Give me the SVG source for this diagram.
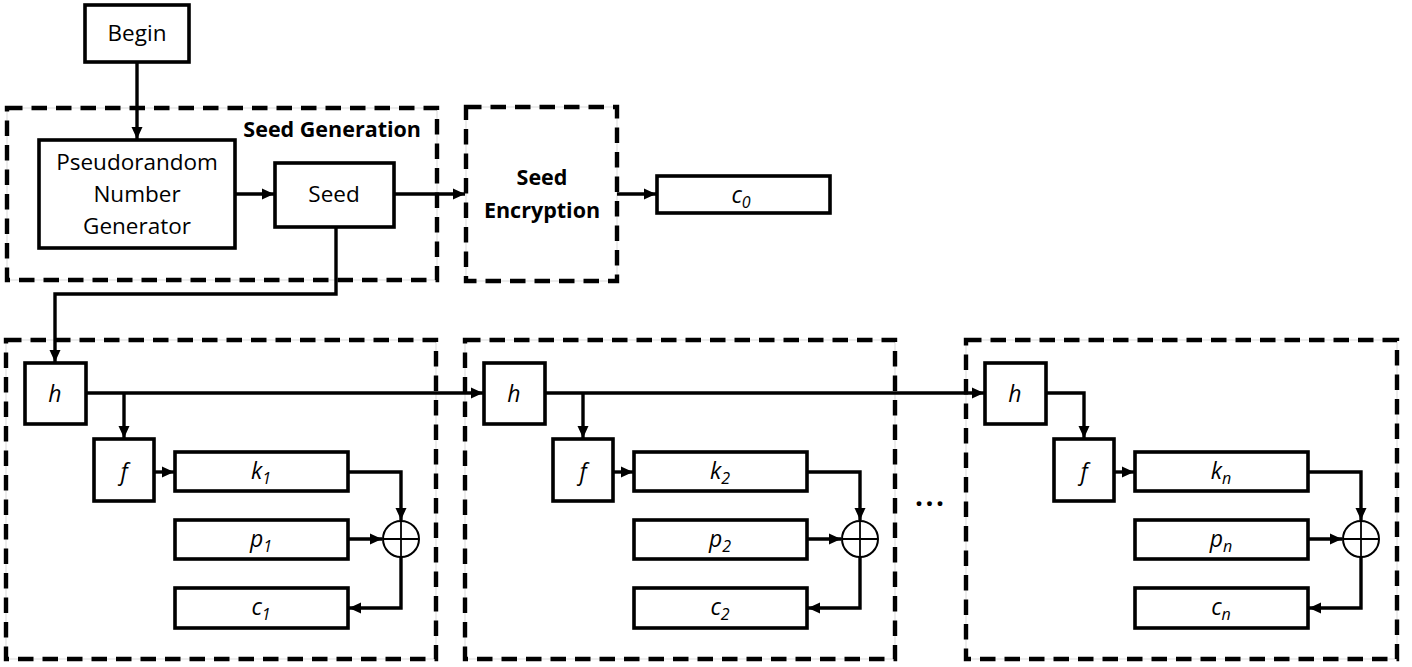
<svg xmlns="http://www.w3.org/2000/svg" width="1412" height="667" viewBox="0 0 1412 667">
  <style>
    .box { fill: #fff; stroke: #000; stroke-width: 3.6; }
    .frame-guide { fill: none; stroke: #d9d9d9; stroke-width: 1; }
    .frame { fill: none; stroke: #000; stroke-width: 4.4; stroke-dasharray: 15.5 9; }
    .wire { fill: none; stroke: #000; stroke-width: 3.4; }
    .xor { fill: #fff; stroke: #000; stroke-width: 2; }
    .xor-line { stroke: #000; stroke-width: 1.8; }
    text { font-family: "Open Sans", "Noto Sans", "DejaVu Sans", sans-serif; fill: #000; }
    .lbl { font-size: 22.5px; text-anchor: middle; }
    .title { font-size: 21.5px; font-weight: bold; }
    .var { font-size: 23px; font-style: italic; text-anchor: middle; }
    .sub { font-size: 16px; }
  </style>
  <defs>
    <marker id="arrow" markerUnits="userSpaceOnUse" markerWidth="12" markerHeight="12" refX="12" refY="6" orient="auto">
      <path d="M0,0.5 L12,6 L0,11.5 z" fill="#000"/>
    </marker>
  </defs>

  <!-- dashed frames -->
  <g id="frames">
    <rect class="frame-guide" x="7" y="108" width="430" height="172"/>
    <rect class="frame" x="7" y="108" width="430" height="172"/>
    <rect class="frame-guide" x="466" y="107" width="151" height="174"/>
    <rect class="frame" x="466" y="107" width="151" height="174"/>
    <rect class="frame-guide" x="6" y="340" width="430" height="319"/>
    <rect class="frame" x="6" y="340" width="430" height="319"/>
    <rect class="frame-guide" x="465" y="340" width="430" height="319"/>
    <rect class="frame" x="465" y="340" width="430" height="319"/>
    <rect class="frame-guide" x="966" y="340" width="431" height="319"/>
    <rect class="frame" x="966" y="340" width="431" height="319"/>
    <text class="title" x="421" y="137" text-anchor="end">Seed Generation</text>
    <text class="title" x="542" y="185" text-anchor="middle">Seed</text>
    <text class="title" x="542" y="218" text-anchor="middle">Encryption</text>
  </g>

  <!-- connectors -->
  <g id="connectors">
    <path class="wire" d="M137,62 V139" marker-end="url(#arrow)"/>
    <path class="wire" d="M235,194 H274" marker-end="url(#arrow)"/>
    <path class="wire" d="M394,194 H465" marker-end="url(#arrow)"/>
    <path class="wire" d="M617,194 H656" marker-end="url(#arrow)"/>
    <path class="wire" d="M336,227 V294 H55 V362" marker-end="url(#arrow)"/>

    <!-- stage 1 -->
    <path class="wire" d="M86,393 H483" marker-end="url(#arrow)"/>
    <path class="wire" d="M124,393 V438" marker-end="url(#arrow)"/>
    <path class="wire" d="M154,472 H174" marker-end="url(#arrow)"/>
    <path class="wire" d="M348,472 H401 V520" marker-end="url(#arrow)"/>
    <path class="wire" d="M348,539 H382" marker-end="url(#arrow)"/>
    <path class="wire" d="M401,557 V608 H349" marker-end="url(#arrow)"/>

    <!-- stage 2 -->
    <path class="wire" d="M545,393 H984" marker-end="url(#arrow)"/>
    <path class="wire" d="M583,393 V438" marker-end="url(#arrow)"/>
    <path class="wire" d="M613,472 H633" marker-end="url(#arrow)"/>
    <path class="wire" d="M807,472 H860 V520" marker-end="url(#arrow)"/>
    <path class="wire" d="M807,539 H841" marker-end="url(#arrow)"/>
    <path class="wire" d="M860,557 V608 H808" marker-end="url(#arrow)"/>

    <!-- stage n -->
    <path class="wire" d="M1045,393 H1084 V438" marker-end="url(#arrow)"/>
    <path class="wire" d="M1114,472 H1134" marker-end="url(#arrow)"/>
    <path class="wire" d="M1308,472 H1361 V520" marker-end="url(#arrow)"/>
    <path class="wire" d="M1308,539 H1342" marker-end="url(#arrow)"/>
    <path class="wire" d="M1361,557 V608 H1309" marker-end="url(#arrow)"/>
  </g>

  <!-- seed generation -->
  <g id="begin">
    <rect class="box" x="85" y="5" width="104" height="57"/>
    <text class="lbl" x="137" y="41">Begin</text>
  </g>
  <g id="prng">
    <rect class="box" x="39" y="140" width="196" height="108"/>
    <text class="lbl" x="137" y="170">Pseudorandom</text>
    <text class="lbl" x="137" y="202">Number</text>
    <text class="lbl" x="137" y="234">Generator</text>
  </g>
  <g id="seed">
    <rect class="box" x="275" y="163" width="119" height="64"/>
    <text class="lbl" x="334" y="202">Seed</text>
  </g>
  <g id="c0">
    <rect class="box" x="657" y="176" width="173" height="37"/>
    <text class="var" x="741" y="203">c<tspan class="sub" dy="5">0</tspan></text>
  </g>

  <!-- stage 1 -->
  <g id="h1">
    <rect class="box" x="25" y="363" width="61" height="61"/>
    <text class="var" x="55" y="402">h</text>
  </g>
  <g id="f1">
    <rect class="box" x="94" y="439" width="60" height="62"/>
    <text class="var" x="124" y="480">f</text>
  </g>
  <g id="k1">
    <rect class="box" x="175" y="452" width="173" height="39"/>
    <text class="var" x="261" y="479">k<tspan class="sub" dy="5">1</tspan></text>
  </g>
  <g id="p1">
    <rect class="box" x="175" y="520" width="173" height="39"/>
    <text class="var" x="261" y="547">p<tspan class="sub" dy="5">1</tspan></text>
  </g>
  <g id="c1">
    <rect class="box" x="175" y="588" width="173" height="40"/>
    <text class="var" x="261" y="615">c<tspan class="sub" dy="5">1</tspan></text>
  </g>
  <g id="xor1">
    <circle class="xor" cx="401" cy="539" r="18"/>
    <line class="xor-line" x1="383" y1="539" x2="419" y2="539"/>
    <line class="xor-line" x1="401" y1="521" x2="401" y2="557"/>
  </g>

  <!-- stage 2 -->
  <g id="h2">
    <rect class="box" x="484" y="363" width="61" height="61"/>
    <text class="var" x="514" y="402">h</text>
  </g>
  <g id="f2">
    <rect class="box" x="553" y="439" width="60" height="62"/>
    <text class="var" x="583" y="480">f</text>
  </g>
  <g id="k2">
    <rect class="box" x="634" y="452" width="173" height="39"/>
    <text class="var" x="720" y="479">k<tspan class="sub" dy="5">2</tspan></text>
  </g>
  <g id="p2">
    <rect class="box" x="634" y="520" width="173" height="39"/>
    <text class="var" x="720" y="547">p<tspan class="sub" dy="5">2</tspan></text>
  </g>
  <g id="c2">
    <rect class="box" x="634" y="588" width="173" height="40"/>
    <text class="var" x="720" y="615">c<tspan class="sub" dy="5">2</tspan></text>
  </g>
  <g id="xor2">
    <circle class="xor" cx="860" cy="539" r="18"/>
    <line class="xor-line" x1="842" y1="539" x2="878" y2="539"/>
    <line class="xor-line" x1="860" y1="521" x2="860" y2="557"/>
  </g>

  <g id="ellipsis">
    <text x="915" y="506" font-size="28" font-weight="bold" textLength="29" lengthAdjust="spacing">...</text>
  </g>

  <!-- stage n -->
  <g id="hn">
    <rect class="box" x="985" y="363" width="61" height="61"/>
    <text class="var" x="1015" y="402">h</text>
  </g>
  <g id="fn">
    <rect class="box" x="1054" y="439" width="60" height="62"/>
    <text class="var" x="1084" y="480">f</text>
  </g>
  <g id="kn">
    <rect class="box" x="1135" y="452" width="173" height="39"/>
    <text class="var" x="1221" y="479">k<tspan class="sub" dy="5">n</tspan></text>
  </g>
  <g id="pn">
    <rect class="box" x="1135" y="520" width="173" height="39"/>
    <text class="var" x="1221" y="547">p<tspan class="sub" dy="5">n</tspan></text>
  </g>
  <g id="cn">
    <rect class="box" x="1135" y="588" width="173" height="40"/>
    <text class="var" x="1221" y="615">c<tspan class="sub" dy="5">n</tspan></text>
  </g>
  <g id="xorn">
    <circle class="xor" cx="1361" cy="539" r="18"/>
    <line class="xor-line" x1="1343" y1="539" x2="1379" y2="539"/>
    <line class="xor-line" x1="1361" y1="521" x2="1361" y2="557"/>
  </g>
</svg>
